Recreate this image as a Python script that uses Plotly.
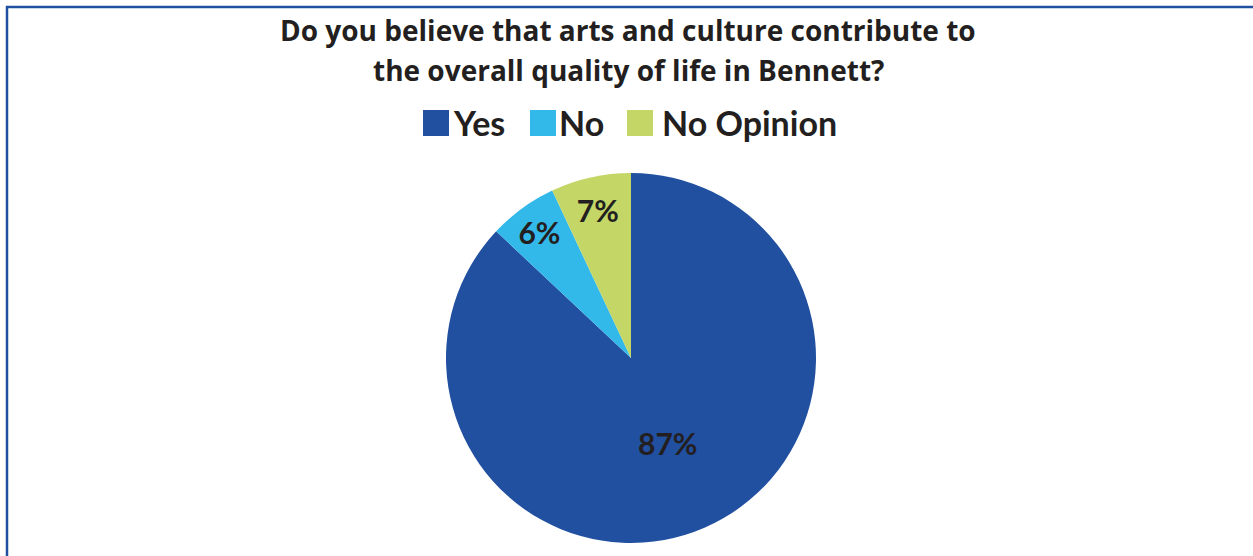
import plotly.graph_objects as go

# ---- data ----
categories = ["Yes", "No", "No Opinion"]
values = [87, 6, 7]
title_lines = ["Do you believe that arts and culture contribute to",
               "the overall quality of life in Bennett?"]

# ---- style ----
colors = ["#2150A0", "#33B8EA", "#C3D666"]
text_color = "#231F20"
font_family = "Lato, 'Open Sans', sans-serif"
title_family = "'Open Sans', Lato, sans-serif"
W, H = 1253, 556

cx, cy, r = 631, 358, 185  # pie centre / radius in pixels (layout)

fig = go.Figure()
fig.add_trace(go.Pie(
    labels=categories,
    values=values,
    sort=False,
    direction="clockwise",
    rotation=0,
    marker=dict(colors=colors, line=dict(width=0)),
    textinfo="percent",
    textposition="inside",
    insidetextorientation="horizontal",
    insidetextfont=dict(family=font_family, size=30, color=text_color, weight="bold"),
    showlegend=False,
    domain=dict(x=[(cx - r) / W, (cx + r) / W], y=[(H - cy - r) / H, (H - cy + r) / H]),
    hoverinfo="label+percent",
))

annotations = []
shapes = []
# title lines
for i, line in enumerate(title_lines):
    annotations.append(dict(
        text=line, x=628 / W, y=1 - (30 + 40 * i) / H, xref="paper", yref="paper",
        xanchor="center", yanchor="middle", showarrow=False,
        font=dict(family=title_family, size=28, color=text_color, weight="bold"),
    ))

# custom legend (large square swatches)
legend_sq_x = [423, 530, 627]
legend_txt_x = [451, 557, 660]
sq = 26
ly = 123
for name, col, sx, tx in zip(categories, colors, legend_sq_x, legend_txt_x):
    shapes.append(dict(type="rect", xref="paper", yref="paper",
                       x0=sx / W, x1=(sx + sq) / W,
                       y0=1 - (ly + sq / 2) / H, y1=1 - (ly - sq / 2) / H,
                       fillcolor=col, line=dict(width=0)))
    annotations.append(dict(
        text=name, x=tx / W, y=1 - ly / H, xref="paper", yref="paper",
        xanchor="left", yanchor="middle", showarrow=False,
        font=dict(family=font_family, size=34, color=text_color, weight="bold"),
    ))

# frame lines (top and left)
border = "#2150A0"
shapes.append(dict(type="line", xref="paper", yref="paper",
                   x0=6 / W, x1=1, y0=1 - 7 / H, y1=1 - 7 / H,
                   line=dict(color=border, width=2.5)))
shapes.append(dict(type="line", xref="paper", yref="paper",
                   x0=7 / W, x1=7 / W, y0=0, y1=1 - 6 / H,
                   line=dict(color=border, width=2.5)))

fig.update_layout(
    width=W, height=H,
    margin=dict(l=0, r=0, t=0, b=0),
    paper_bgcolor="white",
    plot_bgcolor="white",
    annotations=annotations,
    shapes=shapes,
    showlegend=False,
)

fig.write_html("out.html", config={"displayModeBar": False},
               post_script="document.body.style.margin='0';document.body.style.overflow='hidden';")
